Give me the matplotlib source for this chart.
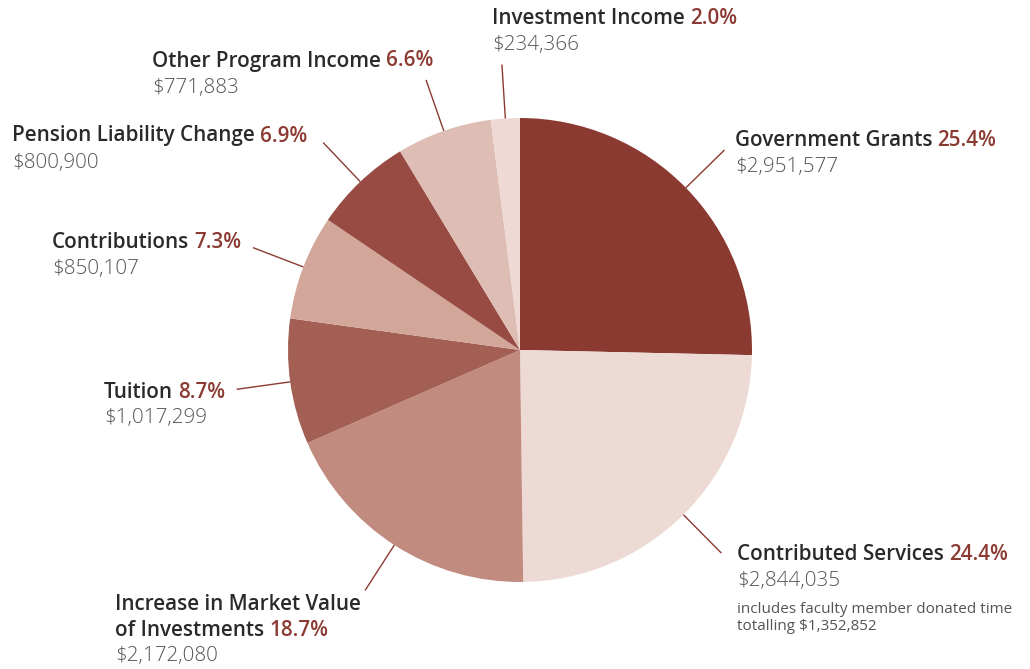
import numpy as np
import matplotlib
matplotlib.use("Agg")
import matplotlib.pyplot as plt

# ---- data ----
categories = ["Government Grants", "Contributed Services",
              "Increase in Market Value\nof Investments", "Tuition",
              "Contributions", "Pension Liability Change",
              "Other Program Income", "Investment Income"]
values = [2951577, 2844035, 2172080, 1017299, 850107, 800900, 771883, 234366]
pct_labels = ["25.4%", "24.4%", "18.7%", "8.7%", "7.3%", "6.9%", "6.6%", "2.0%"]
value_labels = ["$2,951,577", "$2,844,035", "$2,172,080", "$1,017,299",
                "$850,107", "$800,900", "$771,883", "$234,366"]
note_text = "includes faculty member donated time\ntotalling $1,352,852"

colors = ["#8B3A32", "#EDDAD4", "#C28B80", "#A35F53",
          "#D3A69A", "#974B42", "#DDBDB4", "#EED9D4"]

W, H = 1030, 669
FONT = ["Open Sans", "DejaVu Sans"]
DARK = "#2a2a2a"
RED = "#8B3A32"
GREY = "#555555"

fig = plt.figure(figsize=(W / 100, H / 100), dpi=100)
ax = fig.add_axes([0, 0, 1, 1])

cx, cy, R = 520, H - 350, 232
wedges, _ = ax.pie(values, colors=colors, startangle=90, counterclock=False,
                   center=(cx, cy), radius=R, frame=True,
                   wedgeprops=dict(linewidth=0))
ax.set_xlim(0, W)
ax.set_ylim(0, H)
ax.set_aspect("equal")
ax.axis("off")

# leader lines (radial from wedge mid-angle)
for w in wedges:
    mid = np.deg2rad((w.theta1 + w.theta2) / 2)
    r0, r1 = R, 286
    ax.plot([cx + r0 * np.cos(mid), cx + r1 * np.cos(mid)],
            [cy + r0 * np.sin(mid), cy + r1 * np.sin(mid)],
            color=RED, lw=1.0, solid_capstyle="butt")

# label layout: (left x px, top-line center y px, value line y px)
layout = {
    0: (735, 140, 167),
    1: (737, 554, 581),
    2: (115, 605, 656),
    3: (104, 392, 418),
    4: (52, 243, 269),
    5: (12, 136, 163),
    6: (152, 61, 88),
    7: (492, 18, 45),
}

fig.canvas.draw()
renderer = fig.canvas.get_renderer()
LS = 14.9
for i, cat in enumerate(categories):
    x, y, yv = layout[i]
    lines = cat.split("\n")
    for j, ln in enumerate(lines):
        yy = H - (y + j * 26)
        t = ax.text(x, yy, ln, fontsize=LS, family=FONT, weight="semibold",
                    color=DARK, va="center", ha="left")
    bb = t.get_window_extent(renderer)
    x1 = ax.transData.inverted().transform((bb.x1, bb.y0))[0]
    ax.text(x1 + 5, yy, pct_labels[i], fontsize=LS, family=FONT,
            weight="semibold", color=RED, va="center", ha="left")
    ax.text(x, H - yv, value_labels[i], fontsize=LS, family=FONT,
            weight="light", color=GREY, va="center", ha="left")

ax.text(737, H - 602, note_text, fontsize=11, family=FONT, color=GREY,
        va="top", ha="left", linespacing=1.2)

fig.savefig("out.png", dpi=100, facecolor="white")
